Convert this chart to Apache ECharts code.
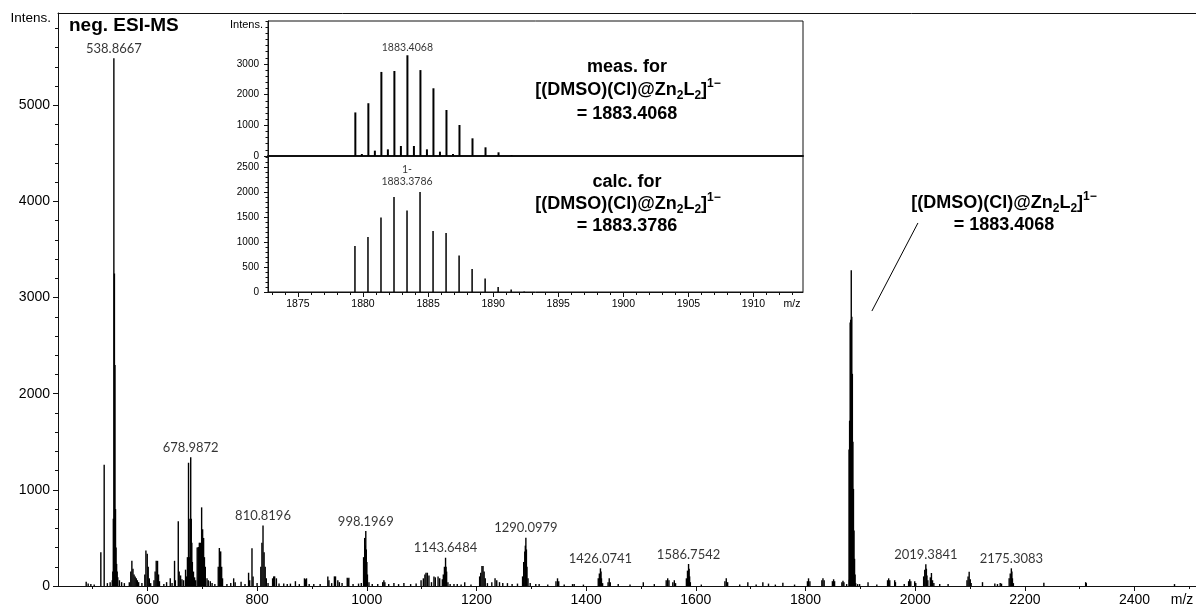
<!DOCTYPE html>
<html><head><meta charset="utf-8">
<script src="https://cdn.jsdelivr.net/npm/echarts@6/dist/echarts.min.js"></script>
<style>html,body{margin:0;padding:0;background:#fff}#c{width:1196px;height:608px}</style>
</head><body><div id="c"></div>
<script>
// ---------- main spectrum (neg. ESI-MS) ----------
const mainMz = [488.4,492,496.9,503,515.1,521.2,527,532.1,535.9,536.9,537.87,538.87,539.87,540.87,541.87,542.87,543.87,544.9,546,549,553,558,
567,569.7,571.7,573.7,575.7,577.7,579.7,581.7,584,590,595.3,597.3,599.7,601.5,603.5,606,612,614.1,616.1,618.5,620.3,622,
630,635,641.7,645,649.5,651,656.3,658,660.5,663,666,669.6,671,673,675.0,676.0,677.0,678.99,679.99,680.99,682,684,686,688,
690.8,692.8,694.7,696.5,698.9,700.7,702.5,704,705.6,708.7,711,714.7,718,723,729.2,731.2,733.6,735.4,737,745,752,757.3,760,
770.8,778,784.5,786.5,790.7,792.7,800,806.8,808.8,810.82,812.8,814.8,816.8,820,828.3,830.3,832,835.2,840,848.6,855,860.8,
869.9,877,886.4,888,890.1,895,903.4,915,929,931,936,941,943,947.2,950,955,964.4,966,967.3,975,985,990,994.2,996.2,997.2,
998.2,999.2,1000.2,1001.2,1004,1010,1020,1029,1031.2,1033,1040,1049.5,1058,1067.7,1080,1090,1099,1103.2,1106,1108,1110.5,
1113.4,1118,1122.5,1125,1130,1133,1137.8,1139.6,1141.6,1143.65,1144.6,1145.6,1148,1152,1159,1165,1172,1178.6,1190,1205.8,
1207.8,1210,1212,1214,1216,1220,1228,1233.9,1237,1242,1248,1256.5,1265,1274.8,1284.1,1286.1,1288.1,1289.1,1290.1,1291.1,
1292.1,1294,1298,1308.2,1314.3,1330,1345,1347.8,1350,1360,1375.2,1378.2,1395,1422.1,1424.1,1426.07,1427.1,1428,1430,1440,
1442.1,1444,1458.5,1480,1504.2,1524.3,1546,1548.7,1551,1558,1560.8,1563,1582.8,1584.8,1586.75,1587.8,1588.7,1590,1610,
1653,1655.5,1658,1680,1694.8,1710,1722.2,1732.5,1745,1758.7,1780,1803.5,1805.5,1808,1829.8,1831.8,1834,1849,1851.2,1853,
1866.3,1868.3,1870,1875,1895,1898.6,1914,1930,1949.6,1951.6,1953.6,1962.6,1964,1980,1988,1990,1992,1999.1,2001,2015.4,
2017.4,2019.38,2020.4,2021.4,2023,2027.6,2029.6,2031.6,2034,2044.7,2060,2094.4,2096.4,2098.4,2100.4,2102,2122.7,2145.2,
2150,2155,2157.4,2171.3,2173.3,2175.31,2176.3,2177.3,2179,2234.6,2310.8,2312,2472.8];
const mainIntens = [45,25,20,15,350,1260,30,40,60,150,700,5490,3250,2300,800,400,230,150,90,60,40,30,
40,150,262,180,120,100,80,60,40,30,120,370,335,200,80,30,60,150,262,262,120,50,
20,40,80,30,262,60,673,150,110,70,60,170,100,300,1282,700,300,1340,700,450,250,150,90,60,
400,405,450,450,818,590,500,300,200,80,60,50,30,20,200,395,360,200,80,20,30,80,40,
45,20,138,60,393,100,30,200,450,630,350,200,80,30,80,100,100,80,25,25,20,25,
50,20,80,70,80,20,20,20,100,60,30,100,100,60,40,30,85,70,85,20,25,30,300,500,420,
572,380,250,120,40,20,20,40,60,40,20,30,20,30,20,25,60,80,120,138,138,
110,40,100,90,100,80,70,120,200,294,200,150,40,20,20,20,15,40,15,100,
138,207,207,150,80,30,40,80,60,40,30,30,20,25,100,250,360,420,502,380,
200,80,30,20,20,15,50,80,50,15,20,20,15,80,130,184,150,80,30,40,
80,40,20,15,40,20,60,80,60,40,60,30,80,160,229,180,100,40,15,
50,80,40,15,40,15,40,25,15,35,15,50,80,50,60,80,60,50,70,50,
40,55,40,20,20,20,40,15,60,80,60,60,40,20,50,70,50,50,30,100,
170,225,180,110,60,90,135,60,30,20,20,60,100,149,70,30,40,25,
20,30,25,80,130,184,150,80,30,35,40,30,20];
const mainLabelMz = [538.8667,678.9872,810.8196,998.1969,1143.6484,1290.0979,1426.0741,1586.7542,2019.3841,2175.3083];
const mainLabelIntens = [5490,1340,630,572,294,502,184,229,225,184];

// ---------- inset: measured isotope pattern ----------
const measMz = [1879.41,1879.91,1880.41,1880.91,1881.41,1881.91,1882.41,1882.91,1883.41,1883.91,1884.41,1884.91,1885.41,1885.91,1886.41,1886.91,1887.41,1888.41,1889.41,1890.41,1891.41];
const measIntens = [1420,65,1720,174,2740,217,2770,326,3283,326,2800,217,2207,141,1500,65,1010,576,283,120,30];
const measLabelMz = [1883.4068];
const measLabelIntens = [3283];

// ---------- inset: calculated isotope pattern ----------
const calcMz = [1879.38,1880.38,1881.38,1882.38,1883.38,1884.38,1885.38,1886.38,1887.38,1888.38,1889.38,1890.38,1891.38,1892.38];
const calcIntens = [920,1100,1490,1900,1630,2000,1220,1180,730,460,270,100,50,10];
const calcLabelMz = [1883.3786];
const calcLabelIntens = [2000];
const calcLabelCharge = ['1-'];

// ---------- tick labels ----------
const mainXLabels = [600,800,1000,1200,1400,1600,1800,2000,2200,2400];
const mainYLabels = [0,1000,2000,3000,4000,5000];
const measYLabels = [0,1000,2000,3000];
const calcYLabels = [0,500,1000,1500,2000,2500];
const insetXLabels = [1875,1880,1885,1890,1895,1900,1905,1910];

const range = (a,b,s)=>{const r=[];for(let v=a;v<=b+1e-9;v+=s)r.push(+v.toFixed(3));return r;};
const mainXMinor = range(500,2500,100);
const mainYMinor = range(200,5800,200);
const measYMinor = range(200,4400,200);
const calcYMinor = range(100,2700,100);
const insetXMinor = range(1873,1913,1);

const SANS = '"Liberation Sans", Arial, sans-serif';
const CAL = 'Lato, "Open Sans", sans-serif';
const INK = '#111';

function axis(o){
  const a = {type:'value', splitLine:{show:false},
    axisLine:{show:false,onZero:false,lineStyle:{color:INK,width:1}},
    axisTick:{show:false}, axisLabel:{show:false}};
  for (const k in o) a[k] = o[k];
  return a;
}
const line = (w)=>({show:true,onZero:false,lineStyle:{color:INK,width:w||1}});
const ticks = (vals,len)=>({show:true,customValues:vals,length:len,lineStyle:{color:INK,width:1}});
const labels = (vals,size,margin)=>({show:true,customValues:vals,fontSize:size,margin:margin,color:'#000',fontFamily:SANS,formatter:v=>String(v)});

const X0 = {min:437,max:2512};
const XI = {min:1872.7,max:1913.8};

const xAxis = [
  axis(Object.assign({gridIndex:0,position:'bottom',axisLine:line(1),axisTick:ticks(mainXLabels,5),axisLabel:labels(mainXLabels,14,7)},X0)),
  axis(Object.assign({gridIndex:0,position:'bottom',axisTick:ticks(mainXMinor,3)},X0)),
  axis(Object.assign({gridIndex:0,position:'top',axisLine:line(1)},X0)),
  axis(Object.assign({gridIndex:1,position:'bottom',axisLine:line(2)},XI)),
  axis(Object.assign({gridIndex:2,position:'bottom',axisLine:line(1),axisTick:ticks(insetXLabels,5),axisLabel:labels(insetXLabels,10.5,7)},XI)),
  axis(Object.assign({gridIndex:2,position:'bottom',axisTick:ticks(insetXMinor,3)},XI))
];
const yAxis = [
  axis({gridIndex:0,position:'left',min:0,max:5960,axisLine:line(1),axisTick:ticks(mainYLabels,5),axisLabel:labels(mainYLabels,14,8)}),
  axis({gridIndex:0,position:'left',min:0,max:5960,axisTick:ticks(mainYMinor,3)}),
  axis({gridIndex:1,position:'left',min:0,max:4400,axisLine:line(1),axisTick:ticks(measYLabels,4),axisLabel:labels(measYLabels,10,9)}),
  axis({gridIndex:1,position:'left',min:0,max:4400,axisTick:ticks(measYMinor,2.5)}),
  axis({gridIndex:2,position:'left',min:0,max:2720,axisLine:line(1),axisTick:ticks(calcYLabels,4),axisLabel:labels(calcYLabels,10,9)}),
  axis({gridIndex:2,position:'left',min:0,max:2720,axisTick:ticks(calcYMinor,2.5)})
];

const pairs = (xs,ys)=>xs.map((x,i)=>[x,ys[i]]);
const mainData = pairs(mainMz,mainIntens).concat(pairs(measMz,measIntens));

function formulaRich(size){
  return {
    b:{fontFamily:SANS,fontWeight:'bold',fontSize:size,lineHeight:24,fill:'#000',color:'#000'},
    s:{fontFamily:SANS,fontWeight:'bold',fontSize:12,lineHeight:10,verticalAlign:'bottom',fill:'#000',color:'#000'},
    p:{fontFamily:SANS,fontWeight:'bold',fontSize:12,lineHeight:13,verticalAlign:'top',fill:'#000',color:'#000'}
  };
}
const FORMULA = '{b|[(DMSO)(Cl)@Zn}{s|2}{b|L}{s|2}{b|]}{p|1\u2212}';
function txt(text,x,y,font,align,rich){
  const st = {text:text,x:0,y:0,fill:'#000',font:font,textAlign:align,align:align,textVerticalAlign:'middle',verticalAlign:'middle'};
  if (rich) st.rich = rich;
  return {type:'text',x:x,y:y,z:100,style:st};
}
const B18 = 'bold 18px "Liberation Sans", Arial, sans-serif';

const option = {
  animation:false,
  backgroundColor:'#fff',
  grid:[
    {left:58,right:0,top:13,bottom:22},
    {left:268,top:21,width:535,height:135,show:true,backgroundColor:'#fff',borderColor:INK,borderWidth:1},
    {left:268,top:156,width:535,height:136,show:true,backgroundColor:'#fff',borderColor:INK,borderWidth:1}
  ],
  xAxis:xAxis,
  yAxis:yAxis,
  series:[
    {type:'bar',xAxisIndex:0,yAxisIndex:0,barWidth:1.4,itemStyle:{color:'#000'},silent:true,data:mainData,
     markLine:{silent:true,symbol:'none',label:{show:false},lineStyle:{color:'#000',width:1,type:'solid'},
       data:[[{coord:[1921,2860]},{coord:[2005,3776]}]]}},
    {type:'scatter',xAxisIndex:0,yAxisIndex:0,symbolSize:0,silent:true,itemStyle:{color:'transparent'},
     data:pairs(mainLabelMz,mainLabelIntens),
     label:{show:true,position:'top',distance:3,formatter:p=>p.value[0].toFixed(4),fontFamily:CAL,fontSize:13,color:'#000'}},
    {type:'bar',xAxisIndex:3,yAxisIndex:2,barWidth:2,itemStyle:{color:'#000'},silent:true,data:pairs(measMz,measIntens)},
    {type:'scatter',xAxisIndex:3,yAxisIndex:2,symbolSize:0,silent:true,itemStyle:{color:'transparent'},
     data:pairs(measLabelMz,measLabelIntens),
     label:{show:true,position:'top',distance:2,formatter:p=>p.value[0].toFixed(4),fontFamily:CAL,fontSize:10.5,color:'#000'}},
    {type:'bar',xAxisIndex:4,yAxisIndex:4,barWidth:1.5,itemStyle:{color:'#000'},silent:true,data:pairs(calcMz,calcIntens)},
    {type:'scatter',xAxisIndex:4,yAxisIndex:4,symbolSize:0,silent:true,itemStyle:{color:'transparent'},
     data:calcLabelMz.map((m,i)=>({value:[m,calcLabelIntens[i]],name:calcLabelCharge[i]})),
     label:{show:true,position:'top',distance:4,lineHeight:12,formatter:p=>p.name+'\n'+p.value[0].toFixed(4),fontFamily:CAL,fontSize:10.5,color:'#000'}}
  ],
  graphic:[
    txt('Intens.',51,18,'13.5px "Liberation Sans", Arial, sans-serif','right'),
    txt('m/z',1182,600,'14px "Liberation Sans", Arial, sans-serif','center'),
    txt('neg. ESI-MS',69,26,'bold 19px "Liberation Sans", Arial, sans-serif','left'),
    txt('Intens.',263,25,'11px "Liberation Sans", Arial, sans-serif','right'),
    txt('m/z',792,304,'10.5px "Liberation Sans", Arial, sans-serif','center'),
    txt('meas. for',627,67,B18,'center'),
    txt(FORMULA,628,90,B18,'center',formulaRich(18)),
    txt('= 1883.4068',627,114,B18,'center'),
    txt('calc. for',627,182,B18,'center'),
    txt(FORMULA,628,204,B18,'center',formulaRich(18)),
    txt('= 1883.3786',627,226,B18,'center'),
    txt(FORMULA,1004,203,B18,'center',formulaRich(18)),
    txt('= 1883.4068',1004,225,B18,'center')
  ]
};
const chart = echarts.init(document.getElementById('c'),null,{renderer:'canvas'});
chart.setOption(option);
</script></body></html>
